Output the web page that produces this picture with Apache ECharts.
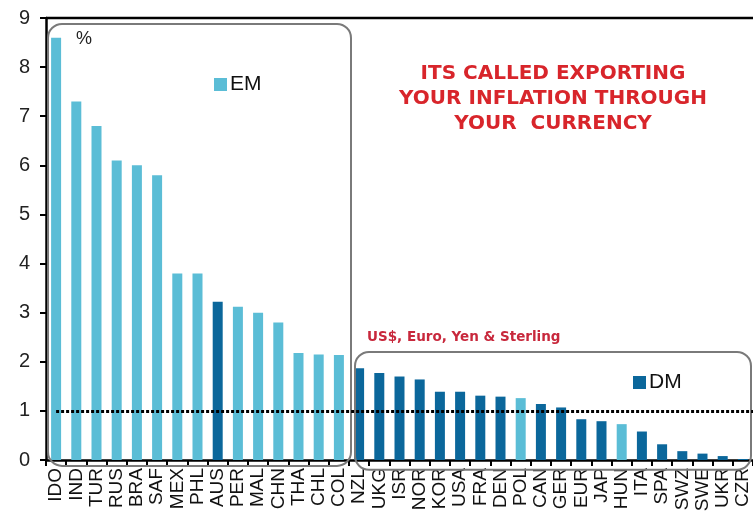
<!DOCTYPE html>
<html>
<head>
<meta charset="utf-8">
<script src="https://cdn.jsdelivr.net/npm/echarts@6/dist/echarts.min.js"></script>
<style>
  html, body { margin: 0; padding: 0; background: #fff; }
  #chart { width: 753px; height: 525px; }
</style>
</head>
<body>
<div id="chart"></div>
<script>
// Inflation by economy, %
const categories = ['IDO','IND','TUR','RUS','BRA','SAF','MEX','PHL','AUS','PER','MAL','CHN','THA','CHL','COL',
  'NZL','UKG','ISR','NOR','KOR','USA','FRA','DEN','POL','CAN','GER','EUR','JAP','HUN','ITA','SPA','SWZ','SWE','UKR','CZR'];
const inflation = [8.6, 7.3, 6.8, 6.1, 6.0, 5.8, 3.8, 3.8, 3.22, 3.12, 3.0, 2.8, 2.18, 2.15, 2.14,
  1.87, 1.77, 1.7, 1.64, 1.39, 1.39, 1.31, 1.29, 1.26, 1.14, 1.07, 0.83, 0.79, 0.73, 0.58, 0.32, 0.18, 0.13, 0.08, 0.02];
// economies drawn in the developed-market colour
const dmColoured = ['AUS','NZL','UKG','ISR','NOR','KOR','USA','FRA','DEN','CAN','GER','EUR','JAP','ITA','SPA','SWZ','SWE','UKR','CZR'];
const emCount = 15;            // first 15 categories sit in the EM group
const yTicks = [0, 1, 2, 3, 4, 5, 6, 7, 8, 9];
const threshold = 1;

const EM_COLOR = '#5bbdd6';
const DM_COLOR = '#0b679b';
const FONT = 'Arial, "Liberation Sans", sans-serif';

const emData = inflation.map((v, i) => dmColoured.includes(categories[i]) ? null : v);
const dmData = inflation.map((v, i) => dmColoured.includes(categories[i]) ? v : null);

const chart = echarts.init(document.getElementById('chart'), null, { renderer: 'canvas' });

const option = {
  animation: false,
  backgroundColor: '#fff',
  grid: { left: 46, right: 0, top: 18, bottom: 65, containLabel: false },
  legend: [
    { data: ['EM'], left: 209, top: 69, itemWidth: 13, itemHeight: 13, itemGap: 4,
      icon: 'rect', textStyle: { fontFamily: FONT, fontSize: 21, color: '#111', padding: [0, 0, 0, -2] } },
    { data: ['DM'], left: 628, top: 367, itemWidth: 13, itemHeight: 13, itemGap: 4,
      icon: 'rect', textStyle: { fontFamily: FONT, fontSize: 21, color: '#111', padding: [0, 0, 0, -2] } }
  ],
  xAxis: {
    type: 'category',
    data: categories,
    axisLine: { lineStyle: { color: '#000', width: 2.5 } },
    axisTick: { show: true, length: 6, lineStyle: { color: '#000', width: 2 } },
    axisLabel: { rotate: 90, interval: 0, margin: 8, fontFamily: FONT, fontSize: 19, color: '#111' }
  },
  yAxis: {
    type: 'value',
    min: yTicks[0],
    max: yTicks[yTicks.length - 1],
    interval: 1,
    axisLine: { show: true, lineStyle: { color: '#000', width: 2.5 } },
    axisTick: { show: true, length: 6, lineStyle: { color: '#000', width: 2 } },
    axisLabel: { margin: 16, fontFamily: FONT, fontSize: 20, color: '#222' },
    splitLine: { show: false }
  },
  series: [
    {
      name: 'EM', type: 'bar', data: emData, barWidth: 10, barGap: '-100%',
      itemStyle: { color: EM_COLOR },
      markLine: {
        silent: true, symbol: 'none', label: { show: false },
        lineStyle: { color: '#000', width: 3, type: [3, 2] },
        data: [[{ xAxis: 0, yAxis: threshold }, { x: 753, yAxis: threshold }]]
      },
      z: 2
    },
    {
      name: 'DM', type: 'bar', data: dmData, barWidth: 10, barGap: '-100%',
      itemStyle: { color: DM_COLOR },
      z: 2
    }
  ]
};
chart.setOption(option);

// Group frames, top frame line and annotations placed from the axis scales
const px = (i, v) => chart.convertToPixel({ gridIndex: 0 }, [i, v]);
const band = px(1, 0)[0] - px(0, 0)[0];
const emLeft = px(0, 0)[0] - band / 2 + 2;
const emRight = px(emCount - 1, 0)[0] + band / 2 + 2;
const dmLeft = px(emCount, 0)[0] - band / 2 + 6;
const dmRight = 751;
const yTop = px(0, 8.88)[1];
const yBottom = px(0, -0.12)[1];
const dmTop = px(0, 2.2)[1];
const dmBottom = px(0, -0.2)[1];
const plotTop = px(0, 9)[1];

chart.setOption({
  graphic: [
    { type: 'line', shape: { x1: px(0, 0)[0] - band / 2, y1: plotTop, x2: 753, y2: plotTop },
      style: { stroke: '#000', lineWidth: 2.5 }, z: 5 },
    { type: 'rect', shape: { x: emLeft, y: yTop, width: emRight - emLeft, height: yBottom - yTop, r: 14 },
      style: { fill: 'none', stroke: '#7a7a7a', lineWidth: 2 }, z: 4 },
    { type: 'rect', shape: { x: dmLeft, y: dmTop, width: dmRight - dmLeft, height: dmBottom - dmTop, r: 14 },
      style: { fill: 'none', stroke: '#7a7a7a', lineWidth: 2 }, z: 4 },
    { type: 'text', left: 76, top: 30,
      style: { text: '%', font: '18px ' + FONT, fill: '#222' }, z: 6 },
    { type: 'text', x: 553, y: 61,
      style: { text: 'ITS CALLED EXPORTING\nYOUR INFLATION THROUGH\nYOUR  CURRENCY',
        font: 'bold 20px "DejaVu Sans", Verdana, sans-serif', fill: '#d8252b',
        align: 'center', verticalAlign: 'top', lineHeight: 25 }, z: 6 },
    { type: 'text', x: 367, y: 330,
      style: { text: 'US$, Euro, Yen & Sterling',
        font: 'bold 13.5px "DejaVu Sans", Verdana, sans-serif', fill: '#c8283c' }, z: 6 }
  ]
});
</script>
</body>
</html>
